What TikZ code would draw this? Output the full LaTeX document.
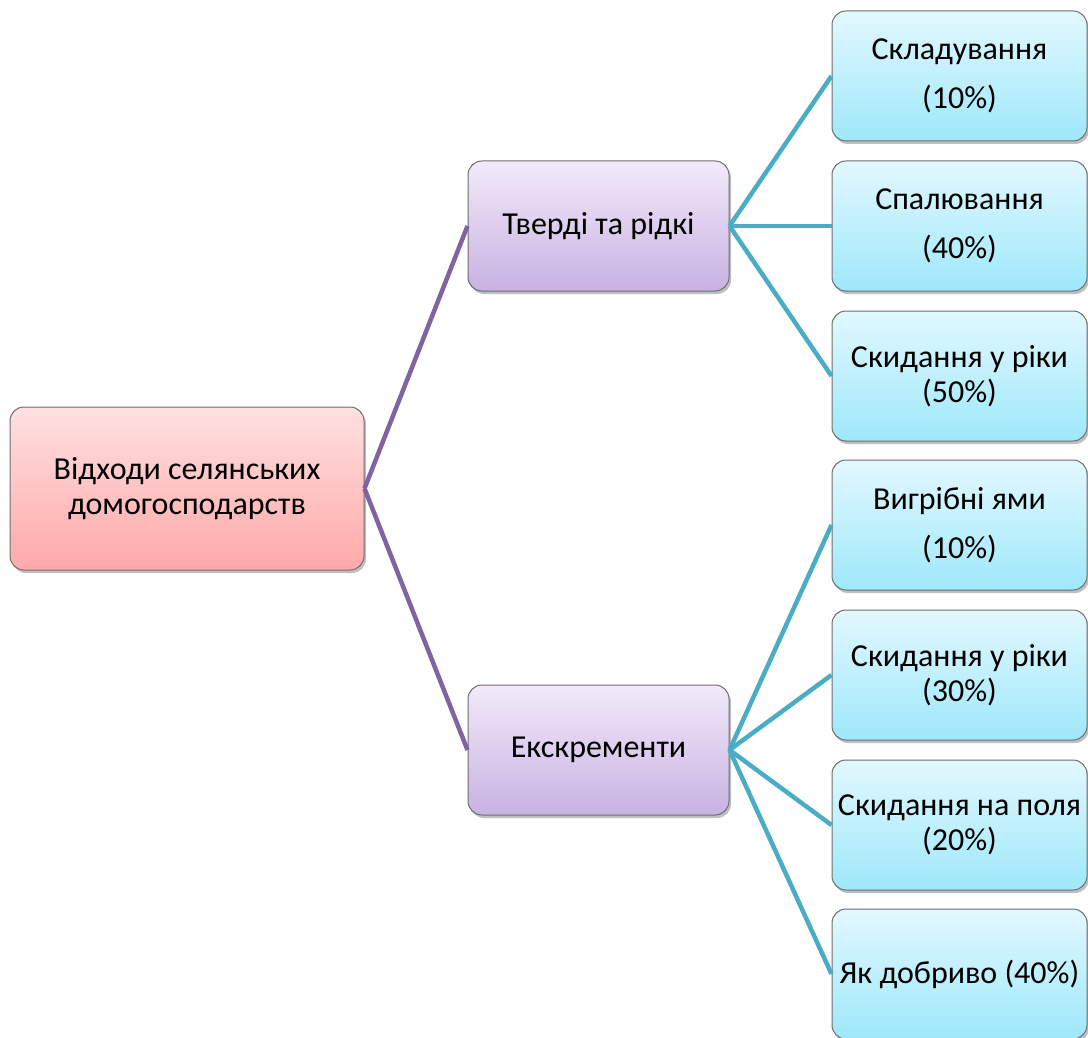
\documentclass[tikz,border=0pt]{standalone}
\usepackage{fontspec}
\setmainfont{Carlito}
\usetikzlibrary{shadows}
\definecolor{purpleline}{HTML}{8064A2}
\definecolor{tealline}{HTML}{4BACC6}
\definecolor{boxborder}{HTML}{6E6E6E}
\tikzset{
  x=1pt, y=-1pt,
  basebox/.style={draw=boxborder, line width=1pt, rounded corners=14pt, align=center,
    font=\fontsize{32}{35}\selectfont, inner sep=1pt,
    drop shadow={shadow xshift=2pt, shadow yshift=-3pt, opacity=0.25, fill=black}},
  rootbox/.style={basebox, minimum width=354pt, minimum height=163pt,
    top color=red!12!white, bottom color=red!35!white!90!pink},
  midbox/.style={basebox, minimum width=261pt, minimum height=130pt,
    top color={rgb,255:red,242;green,234;blue,250}, bottom color={rgb,255:red,200;green,178;blue,226}},
  leafbox/.style={basebox, minimum width=255pt, minimum height=130pt,
    top color={rgb,255:red,226;green,248;blue,255}, bottom color={rgb,255:red,158;green,232;blue,250}},
  plink/.style={draw=purpleline, line width=4.5pt},
  tlink/.style={draw=tealline, line width=4.5pt},
}
\begin{document}
\begin{tikzpicture}
\useasboundingbox (0,0) rectangle (1088,1038);
\node[rootbox] (root) at (187,488.5) {Відходи селянських\\домогосподарств};
\node[midbox] (solid) at (598.5,226) {Тверді та рідкі};
\node[midbox] (excr) at (598.5,750) {Екскременти};
\node[leafbox] (l1) at (959.5,76) {Складування\\[14pt](10\%)};
\node[leafbox] (l2) at (959.5,226) {Спалювання\\[14pt](40\%)};
\node[leafbox] (l3) at (959.5,376) {Скидання у ріки\\(50\%)};
\node[leafbox] (l4) at (959.5,525) {Вигрібні ями\\[14pt](10\%)};
\node[leafbox] (l5) at (959.5,675) {Скидання у ріки\\(30\%)};
\node[leafbox] (l6) at (959.5,825) {Скидання на поля\\(20\%)};
\node[leafbox] (l7) at (959.5,974) {Як добриво (40\%)};
\draw[plink] (root.east) -- (solid.west);
\draw[plink] (root.east) -- (excr.west);
\draw[tlink] (solid.east) -- (l1.west);
\draw[tlink] (solid.east) -- (l2.west);
\draw[tlink] (solid.east) -- (l3.west);
\draw[tlink] (excr.east) -- (l4.west);
\draw[tlink] (excr.east) -- (l5.west);
\draw[tlink] (excr.east) -- (l6.west);
\draw[tlink] (excr.east) -- (l7.west);
\end{tikzpicture}
\end{document}
